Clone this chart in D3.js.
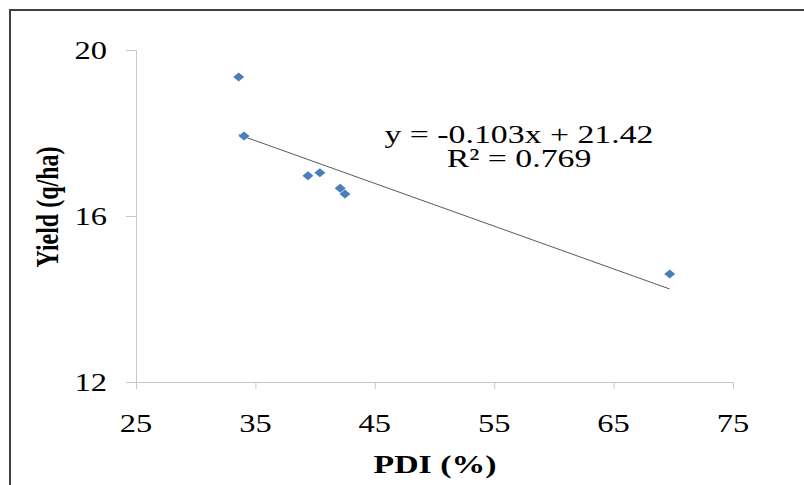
<!DOCTYPE html>
<html>
<head>
<meta charset="utf-8">
<script src="https://cdn.jsdelivr.net/npm/d3@7"></script>
<style>
  body { margin: 0; background: #fff; }
  text { font-family: "Liberation Serif", "Times New Roman", serif; fill: #000; }
</style>
</head>
<body>
<div id="chart"></div>
<script>
// Data
const pdi = [33.6, 34.05, 39.4, 40.4, 42.1, 42.5, 69.7];
const yieldQ = [19.35, 17.93, 16.97, 17.04, 16.67, 16.53, 14.6];
const xTicks = [25, 35, 45, 55, 65, 75];
const yTicks = [12, 16, 20];
const slope = -0.103;
const intercept = 21.42;
const eqLines = ['y = -0.103x + 21.42', 'R² = 0.769'];

const width = 804;
const height = 485;
const sx = 1.3; // the picture is stretched sideways

const svg = d3.select('#chart')
  .append('svg')
  .attr('width', width)
  .attr('height', height);

// outer frame, cut off at right and bottom
svg.append('rect')
  .attr('x', 10)
  .attr('y', 10)
  .attr('width', 900)
  .attr('height', 600)
  .attr('fill', 'none')
  .attr('stroke', '#404040')
  .attr('stroke-width', 2);

const x = d3.scaleLinear().domain([25, 75]).range([136, 733]);
const y = d3.scaleLinear().domain([12, 20]).range([382, 50]);

// axes
svg.append('g')
  .attr('transform', `translate(0,${y(12)})`)
  .call(d3.axisBottom(x).tickValues(xTicks).tickSize(7).tickFormat(''))
  .call(g => g.selectAll('path, line').attr('stroke', '#c8c8c8'));

svg.append('g')
  .attr('transform', `translate(${x(25)},0)`)
  .call(d3.axisLeft(y).tickValues(yTicks).tickSize(10).tickFormat(''))
  .call(g => g.selectAll('path, line').attr('stroke', '#c8c8c8'));

// tick labels (stretched text)
svg.selectAll('.xlab')
  .data(xTicks)
  .enter().append('text')
  .attr('transform', d => `translate(${x(d)},432) scale(${sx},1)`)
  .attr('text-anchor', 'middle')
  .style('font-size', '25px')
  .text(d => d);

svg.selectAll('.ylab')
  .data(yTicks)
  .enter().append('text')
  .attr('transform', d => `translate(107,${y(d) + 9}) scale(${sx},1)`)
  .attr('text-anchor', 'end')
  .style('font-size', '25px')
  .text(d => d);

// axis titles
svg.append('text')
  .attr('transform', `translate(435,473) scale(${sx},1)`)
  .attr('text-anchor', 'middle')
  .style('font-size', '26px')
  .style('font-weight', 'bold')
  .text('PDI (%)');

svg.append('text')
  .attr('transform', `translate(58,207) scale(${sx},1) rotate(-90)`)
  .attr('text-anchor', 'middle')
  .style('font-size', '24px')
  .style('font-weight', 'bold')
  .text('Yield (q/ha)');

// trend line
const xMin = d3.min(pdi);
const xMax = d3.max(pdi);
svg.append('line')
  .attr('x1', x(xMin))
  .attr('y1', y(slope * xMin + intercept))
  .attr('x2', x(xMax))
  .attr('y2', y(slope * xMax + intercept))
  .attr('stroke', '#595959')
  .attr('stroke-width', 1);

// points
svg.selectAll('.dot')
  .data(pdi)
  .enter().append('path')
  .attr('class', 'dot')
  .attr('d', 'M0,-4.5L5.5,0L0,4.5L-5.5,0Z')
  .attr('transform', (d, i) => `translate(${x(d)},${y(yieldQ[i])})`)
  .attr('fill', '#4a7ebb');

// equation
svg.selectAll('.eq')
  .data(eqLines)
  .enter().append('text')
  .attr('transform', (d, i) => `translate(519,${143 + i * 24}) scale(${sx},1)`)
  .attr('text-anchor', 'middle')
  .style('font-size', '26px')
  .text(d => d);
</script>
</body>
</html>
